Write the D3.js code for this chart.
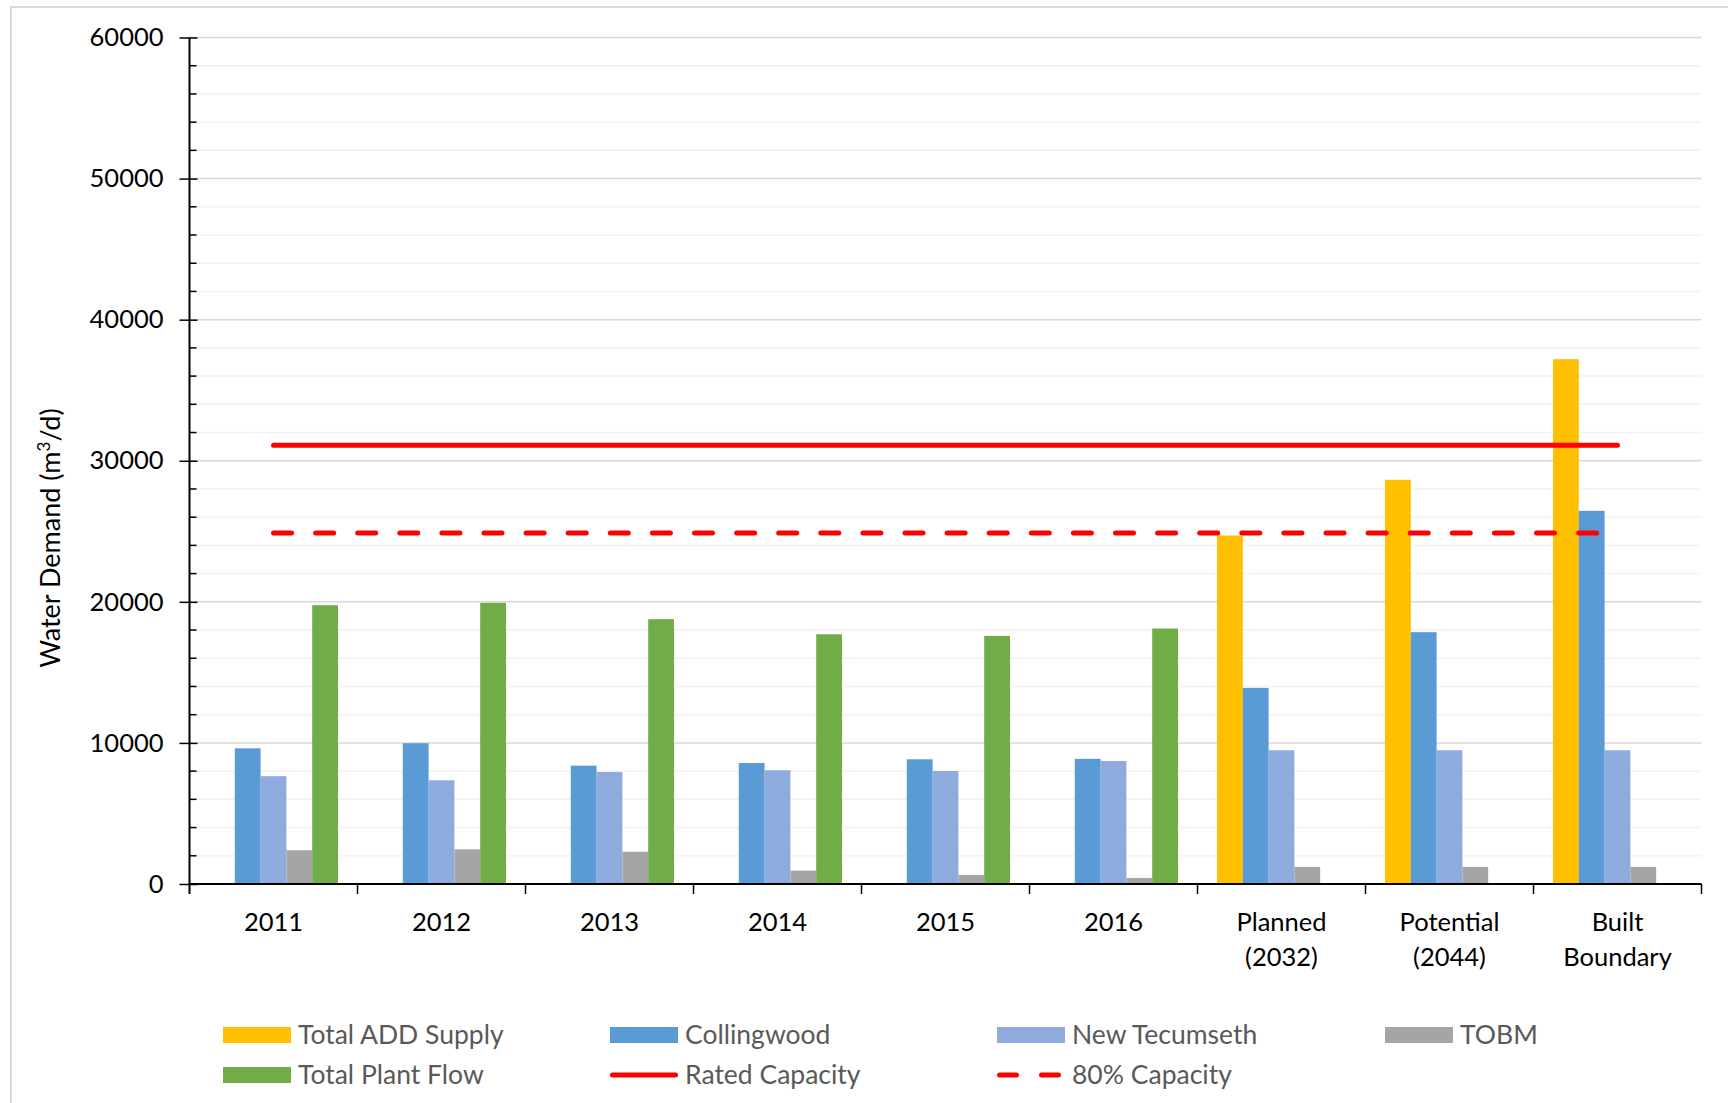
<!DOCTYPE html>
<html>
<head>
<meta charset="utf-8">
<script src="https://cdn.jsdelivr.net/npm/d3@7"></script>
<style>
  html, body { margin: 0; padding: 0; background: #fff; }
  svg { display: block; }
  text { font-family: Lato, "Open Sans", sans-serif; }
</style>
</head>
<body>
<svg id="chart" width="1728" height="1103"></svg>
<script>
// Daily water demand by scenario (m3/d)
const categories = ["2011", "2012", "2013", "2014", "2015", "2016", "Planned (2032)", "Potential (2044)", "Built Boundary"];
const categoryLines = [["2011"], ["2012"], ["2013"], ["2014"], ["2015"], ["2016"], ["Planned", "(2032)"], ["Potential", "(2044)"], ["Built", "Boundary"]];

const totalADDSupply = [null, null, null, null, null, null, 24700, 28650, 37200];
const collingwood    = [9620, 9980, 8390, 8580, 8840, 8870, 13900, 17850, 26450];
const newTecumseth   = [7640, 7350, 7940, 8060, 8010, 8720, 9480, 9480, 9480];
const tobm           = [2390, 2460, 2290, 950, 640, 430, 1210, 1210, 1210];
const totalPlantFlow = [19760, 19930, 18770, 17700, 17590, 18110, null, null, null];

const ratedCapacity = 31100;
const capacity80 = ratedCapacity * 0.8;

const yMajorTicks = [0, 10000, 20000, 30000, 40000, 50000, 60000];
const yMinorStep = 2000;

const seriesNames = ["Total ADD Supply", "Collingwood", "New Tecumseth", "TOBM", "Total Plant Flow"];
const seriesValues = [totalADDSupply, collingwood, newTecumseth, tobm, totalPlantFlow];
const seriesColors = ["#FFC000", "#5B9BD5", "#8FAADC", "#A5A5A5", "#70AD47"];

const svg = d3.select("#chart");

// outer chart frame (top and left edges show)
svg.append("rect")
  .attr("x", 11).attr("y", 7)
  .attr("width", 1760).attr("height", 1140)
  .attr("fill", "none").attr("stroke", "#D9D9D9").attr("stroke-width", 2);

const plot = { left: 189.5, right: 1701.5, top: 37.5, bottom: 884 };

const x = d3.scaleBand().domain(categories).range([plot.left, plot.right]).padding(0);
const xs = d3.scaleBand().domain(seriesNames).range([0, x.bandwidth()]).paddingInner(0).paddingOuter(0.756);
const y = d3.scaleLinear().domain([0, 60000]).range([plot.bottom, plot.top]);

// gridlines: minor first, then major
const minorVals = d3.range(0, 60001, yMinorStep).filter(v => v % 10000 !== 0);
svg.append("g").selectAll("line").data(minorVals).join("line")
  .attr("x1", plot.left).attr("x2", plot.right)
  .attr("y1", d => y(d)).attr("y2", d => y(d))
  .attr("stroke", "#F2F2F2").attr("stroke-width", 1.5);
svg.append("g").selectAll("line").data(yMajorTicks.filter(v => v > 0)).join("line")
  .attr("x1", plot.left).attr("x2", plot.right)
  .attr("y1", d => y(d)).attr("y2", d => y(d))
  .attr("stroke", "#D9D9D9").attr("stroke-width", 1.5);

// bars
const barsG = svg.append("g");
seriesNames.forEach((name, si) => {
  const rows = categories.map((c, i) => ({ c, v: seriesValues[si][i] })).filter(d => d.v != null);
  barsG.append("g").selectAll("rect").data(rows).join("rect")
    .attr("x", d => x(d.c) + xs(name))
    .attr("width", xs.bandwidth())
    .attr("y", d => y(d.v))
    .attr("height", d => y(0) - y(d.v))
    .attr("fill", seriesColors[si]);
});

// capacity lines across category centres
const firstC = x(categories[0]) + x.bandwidth() / 2;
const lastC = x(categories[categories.length - 1]) + x.bandwidth() / 2;
svg.append("line")
  .attr("x1", firstC).attr("x2", lastC)
  .attr("y1", y(ratedCapacity)).attr("y2", y(ratedCapacity))
  .attr("stroke", "#FF0000").attr("stroke-width", 5).attr("stroke-linecap", "round");
svg.append("line")
  .attr("x1", firstC).attr("x2", lastC)
  .attr("y1", y(capacity80)).attr("y2", y(capacity80))
  .attr("stroke", "#FF0000").attr("stroke-width", 5).attr("stroke-linecap", "round")
  .attr("stroke-dasharray", "18,24.1");

// y axis with crossing major ticks and inner minor ticks
const yAxis = svg.append("g").attr("transform", `translate(${plot.left},0)`)
  .call(d3.axisLeft(y).tickValues(yMajorTicks).tickSize(10).tickPadding(16).tickFormat(d3.format("d")));
yAxis.select(".domain").remove();
yAxis.selectAll(".tick line").attr("x2", -10).attr("x1", 8).attr("stroke", "#000").attr("stroke-width", 1.5);
yAxis.selectAll(".tick text").attr("font-size", 25.5).attr("fill", "#000")
  .attr("font-family", "Lato, sans-serif");
svg.append("g").selectAll("line").data(minorVals).join("line")
  .attr("x1", plot.left).attr("x2", plot.left + 7)
  .attr("y1", d => y(d)).attr("y2", d => y(d))
  .attr("stroke", "#000").attr("stroke-width", 1.5);
svg.append("line")
  .attr("x1", plot.left).attr("x2", plot.left)
  .attr("y1", y(60000)).attr("y2", plot.bottom + 10)
  .attr("stroke", "#000").attr("stroke-width", 2);

// x axis
svg.append("line")
  .attr("x1", plot.left).attr("x2", plot.right)
  .attr("y1", plot.bottom).attr("y2", plot.bottom)
  .attr("stroke", "#000").attr("stroke-width", 2);
const boundaries = categories.map(c => x(c)).concat([plot.right]);
svg.append("g").selectAll("line").data(boundaries.slice(1)).join("line")
  .attr("x1", d => d).attr("x2", d => d)
  .attr("y1", plot.bottom).attr("y2", plot.bottom + 10)
  .attr("stroke", "#000").attr("stroke-width", 1.5);

const xl = svg.append("g").selectAll("text").data(categories).join("text")
  .attr("x", d => x(d) + x.bandwidth() / 2)
  .attr("y", 931)
  .attr("text-anchor", "middle")
  .attr("font-size", 25.5)
  .attr("fill", "#000");
xl.each(function(d, i) {
  const t = d3.select(this);
  categoryLines[i].forEach((line, li) => {
    t.append("tspan").attr("x", x(d) + x.bandwidth() / 2).attr("dy", li === 0 ? 0 : 35).text(line);
  });
});

// y axis title
const yt = svg.append("text")
  .attr("transform", "translate(60,538) rotate(-90)")
  .attr("text-anchor", "middle")
  .attr("font-size", 27)
  .attr("fill", "#000");
yt.append("tspan").text("Water Demand (m");
yt.append("tspan").attr("dy", -10).attr("font-size", 17).text("3");
yt.append("tspan").attr("dy", 10).text("/d)");

// legend
const legendItems = [
  { name: "Total ADD Supply", type: "rect", color: "#FFC000" },
  { name: "Collingwood", type: "rect", color: "#5B9BD5" },
  { name: "New Tecumseth", type: "rect", color: "#8FAADC" },
  { name: "TOBM", type: "rect", color: "#A5A5A5" },
  { name: "Total Plant Flow", type: "rect", color: "#70AD47" },
  { name: "Rated Capacity", type: "line", color: "#FF0000" },
  { name: "80% Capacity", type: "dash", color: "#FF0000" }
];
const legendCols = [223, 610, 997, 1385];
const legendRows = [1035, 1075];
const lg = svg.append("g").selectAll("g").data(legendItems).join("g")
  .attr("transform", (d, i) => `translate(${legendCols[i % 4]},${legendRows[Math.floor(i / 4)]})`);
lg.filter(d => d.type === "rect").append("rect")
  .attr("x", 0).attr("y", -8).attr("width", 68).attr("height", 16).attr("fill", d => d.color);
lg.filter(d => d.type !== "rect").append("line")
  .attr("x1", 2.5).attr("x2", 65.5).attr("y1", 0).attr("y2", 0)
  .attr("stroke", d => d.color).attr("stroke-width", 5).attr("stroke-linecap", "round")
  .attr("stroke-dasharray", d => d.type === "dash" ? "17,25" : null);
lg.append("text")
  .attr("x", 75).attr("y", 0).attr("dy", "0.35em")
  .attr("font-size", 26.5).attr("fill", "#595959")
  .text(d => d.name);
</script>
</body>
</html>
